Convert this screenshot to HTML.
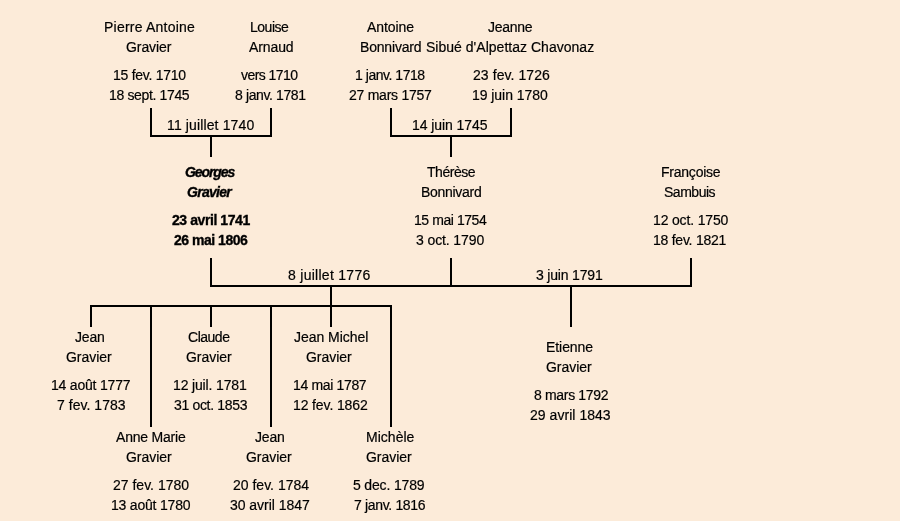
<!DOCTYPE html><html><head><meta charset="utf-8"><style>
html,body{margin:0;padding:0}body{width:900px;height:521px;background:#fcebd9;position:relative;overflow:hidden;font-family:"Liberation Sans",sans-serif;color:#000;-webkit-font-smoothing:antialiased}
.t{position:absolute;will-change:transform;-webkit-text-stroke:0.2px #000;white-space:nowrap;font-size:14px;line-height:20px}.i{font-style:italic}.b{font-weight:bold;-webkit-text-stroke:0.35px #000}
.ln{position:absolute;background:#000}
</style></head><body>
<div class="t" style="left:104.00px;top:17px;letter-spacing:0.22px">Pierre Antoine</div>
<div class="t" style="left:126.20px;top:37px;letter-spacing:-0.08px">Gravier</div>
<div class="t" style="left:113.40px;top:65px;letter-spacing:-0.27px">15 fev. 1710</div>
<div class="t" style="left:109.20px;top:85px;letter-spacing:-0.35px">18 sept. 1745</div>
<div class="t" style="left:250.10px;top:17px;letter-spacing:-0.48px">Louise</div>
<div class="t" style="left:249.00px;top:37px;letter-spacing:-0.10px">Arnaud</div>
<div class="t" style="left:241.10px;top:65px;letter-spacing:-0.55px">vers 1710</div>
<div class="t" style="left:234.70px;top:85px;letter-spacing:-0.38px">8 janv. 1781</div>
<div class="t" style="left:367.30px;top:17px;letter-spacing:-0.07px">Antoine</div>
<div class="t" style="left:360.30px;top:37px;letter-spacing:-0.18px">Bonnivard</div>
<div class="t" style="left:354.50px;top:65px;letter-spacing:-0.47px">1 janv. 1718</div>
<div class="t" style="left:348.80px;top:85px;letter-spacing:-0.25px">27 mars 1757</div>
<div class="t" style="left:487.90px;top:17px;letter-spacing:-0.30px">Jeanne</div>
<div class="t" style="left:425.70px;top:37px;letter-spacing:0.02px">Sibué d'Alpettaz Chavonaz</div>
<div class="t" style="left:472.80px;top:65px;letter-spacing:0.07px">23 fev. 1726</div>
<div class="t" style="left:472.30px;top:85px;letter-spacing:-0.05px">19 juin 1780</div>
<div class="t" style="left:166.60px;top:115px;letter-spacing:0.13px">11 juillet 1740</div>
<div class="t" style="left:412.30px;top:115px;letter-spacing:-0.07px">14 juin 1745</div>
<div class="t b i" style="left:185.40px;top:162px;letter-spacing:-1.08px">Georges</div>
<div class="t b i" style="left:187.30px;top:182px;letter-spacing:-0.72px">Gravier</div>
<div class="t b" style="left:171.90px;top:210px;letter-spacing:-0.42px">23 avril 1741</div>
<div class="t b" style="left:173.60px;top:230px;letter-spacing:-0.48px">26 mai 1806</div>
<div class="t" style="left:426.80px;top:162px;letter-spacing:-0.45px">Thérèse</div>
<div class="t" style="left:420.60px;top:182px;letter-spacing:-0.29px">Bonnivard</div>
<div class="t" style="left:413.70px;top:210px;letter-spacing:-0.43px">15 mai 1754</div>
<div class="t" style="left:415.90px;top:230px;letter-spacing:-0.11px">3 oct. 1790</div>
<div class="t" style="left:660.60px;top:162px;letter-spacing:-0.23px">Françoise</div>
<div class="t" style="left:664.00px;top:182px;letter-spacing:-0.48px">Sambuis</div>
<div class="t" style="left:652.50px;top:210px;letter-spacing:-0.16px">12 oct. 1750</div>
<div class="t" style="left:653.20px;top:230px;letter-spacing:-0.25px">18 fev. 1821</div>
<div class="t" style="left:288.30px;top:265px;letter-spacing:0.28px">8 juillet 1776</div>
<div class="t" style="left:536.30px;top:265px;letter-spacing:-0.18px">3 juin 1791</div>
<div class="t" style="left:75.40px;top:327px;letter-spacing:-0.20px">Jean</div>
<div class="t" style="left:66.30px;top:347px;letter-spacing:-0.02px">Gravier</div>
<div class="t" style="left:50.70px;top:375px;letter-spacing:-0.20px">14 août 1777</div>
<div class="t" style="left:56.80px;top:395px;letter-spacing:0.04px">7 fev. 1783</div>
<div class="t" style="left:188.40px;top:327px;letter-spacing:-0.48px">Claude</div>
<div class="t" style="left:186.30px;top:347px;letter-spacing:-0.02px">Gravier</div>
<div class="t" style="left:173.20px;top:375px;letter-spacing:-0.15px">12 juil. 1781</div>
<div class="t" style="left:173.80px;top:395px;letter-spacing:-0.33px">31 oct. 1853</div>
<div class="t" style="left:293.50px;top:327px;letter-spacing:-0.03px">Jean Michel</div>
<div class="t" style="left:306.30px;top:347px;letter-spacing:-0.02px">Gravier</div>
<div class="t" style="left:293.40px;top:375px;letter-spacing:-0.34px">14 mai 1787</div>
<div class="t" style="left:292.50px;top:395px;letter-spacing:-0.12px">12 fev. 1862</div>
<div class="t" style="left:546.30px;top:337px;letter-spacing:-0.07px">Etienne</div>
<div class="t" style="left:546.30px;top:357px;letter-spacing:-0.02px">Gravier</div>
<div class="t" style="left:533.50px;top:385px;letter-spacing:-0.33px">8 mars 1792</div>
<div class="t" style="left:529.70px;top:405px;letter-spacing:0.04px">29 avril 1843</div>
<div class="t" style="left:115.90px;top:427px;letter-spacing:-0.21px">Anne Marie</div>
<div class="t" style="left:126.30px;top:447px;letter-spacing:-0.02px">Gravier</div>
<div class="t" style="left:112.80px;top:475px;letter-spacing:0.00px">27 fev. 1780</div>
<div class="t" style="left:110.70px;top:495px;letter-spacing:-0.20px">13 août 1780</div>
<div class="t" style="left:255.40px;top:427px;letter-spacing:-0.20px">Jean</div>
<div class="t" style="left:246.30px;top:447px;letter-spacing:-0.02px">Gravier</div>
<div class="t" style="left:232.80px;top:475px;letter-spacing:-0.00px">20 fev. 1784</div>
<div class="t" style="left:230.00px;top:495px;letter-spacing:-0.04px">30 avril 1847</div>
<div class="t" style="left:365.80px;top:427px;letter-spacing:0.02px">Michèle</div>
<div class="t" style="left:366.30px;top:447px;letter-spacing:-0.02px">Gravier</div>
<div class="t" style="left:353.20px;top:475px;letter-spacing:-0.16px">5 dec. 1789</div>
<div class="t" style="left:353.70px;top:495px;letter-spacing:-0.34px">7 janv. 1816</div>
<div class="ln" style="left:150px;top:108px;width:2px;height:29px"></div>
<div class="ln" style="left:270px;top:108px;width:2px;height:29px"></div>
<div class="ln" style="left:150px;top:135px;width:122px;height:2px"></div>
<div class="ln" style="left:210px;top:137px;width:2px;height:20px"></div>
<div class="ln" style="left:390px;top:108px;width:2px;height:29px"></div>
<div class="ln" style="left:510px;top:108px;width:2px;height:29px"></div>
<div class="ln" style="left:390px;top:135px;width:122px;height:2px"></div>
<div class="ln" style="left:450px;top:137px;width:2px;height:20px"></div>
<div class="ln" style="left:210px;top:258px;width:2px;height:29px"></div>
<div class="ln" style="left:450px;top:258px;width:2px;height:29px"></div>
<div class="ln" style="left:690px;top:258px;width:2px;height:29px"></div>
<div class="ln" style="left:210px;top:285px;width:482px;height:2px"></div>
<div class="ln" style="left:330px;top:287px;width:2px;height:20px"></div>
<div class="ln" style="left:90px;top:305px;width:302px;height:2px"></div>
<div class="ln" style="left:90px;top:307px;width:2px;height:20px"></div>
<div class="ln" style="left:210px;top:307px;width:2px;height:20px"></div>
<div class="ln" style="left:330px;top:307px;width:2px;height:20px"></div>
<div class="ln" style="left:150px;top:307px;width:2px;height:120px"></div>
<div class="ln" style="left:270px;top:307px;width:2px;height:120px"></div>
<div class="ln" style="left:390px;top:307px;width:2px;height:120px"></div>
<div class="ln" style="left:570px;top:287px;width:2px;height:40px"></div>
</body></html>
